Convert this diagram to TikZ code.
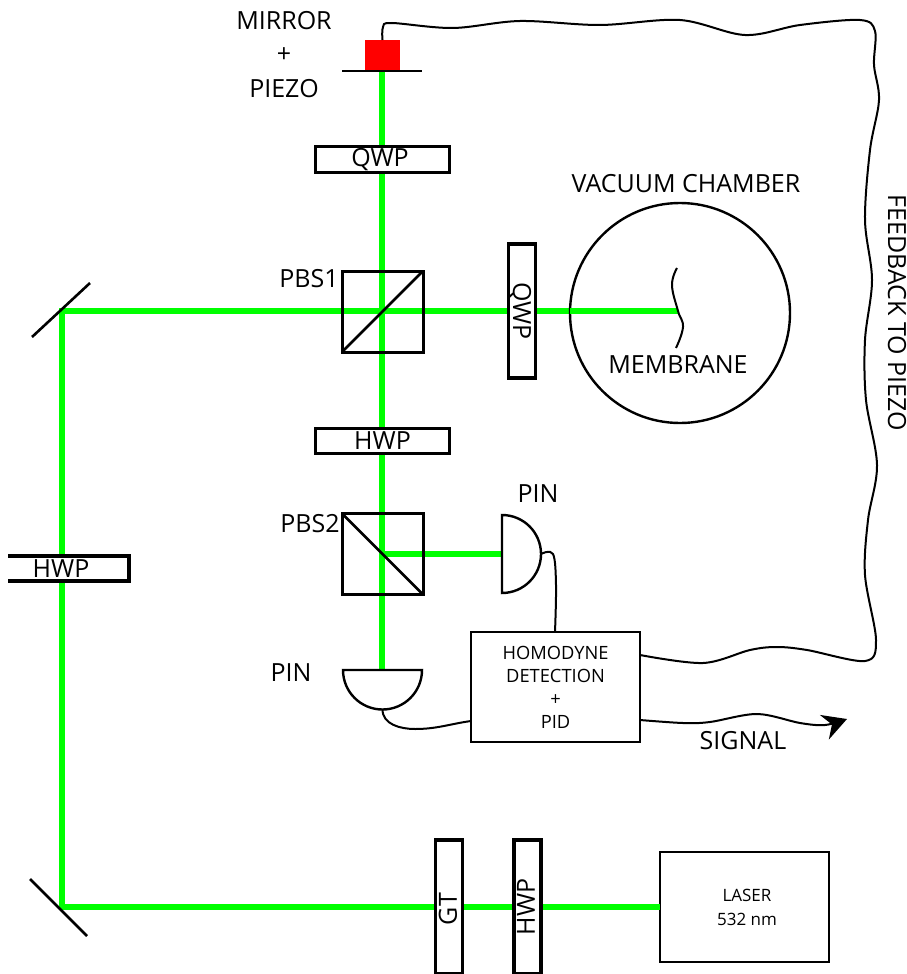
\documentclass[tikz,border=0pt]{standalone}
\usepackage{fontspec}
\setmainfont{Open Sans}
\usetikzlibrary{arrows.meta}
\definecolor{beamgreen}{RGB}{0,255,0}
\tikzset{
  x=1pt,y=-1pt,
  beam/.style={draw=beamgreen,line width=6pt},
  plate/.style={draw=black,line width=3.2pt,fill=white,inner sep=0pt,outer sep=0pt,font=\fontsize{25}{25}\selectfont},
  cube/.style={draw=black,line width=3pt,inner sep=0pt,outer sep=0pt,minimum width=81pt,minimum height=81pt},
  panel/.style={draw=black,line width=2.4pt,fill=white,inner sep=0pt,outer sep=0pt},
  wire/.style={draw=black,line width=2pt,line join=round},
  lbl/.style={inner sep=0pt,font=\fontsize{25}{25}\selectfont},
  small/.style={inner sep=0pt,font=\fontsize{18.3}{24}\selectfont,align=center},
  mir/.style={draw=black,line width=2.6pt},
}
\begin{document}
\begin{tikzpicture}
\useasboundingbox (0,0) rectangle (907,974);
% beams
\coordinate (mc1) at (62,311);
\coordinate (mc2) at (62,907);
\coordinate (mtop) at (382,71);
\coordinate (mem) at (678,311);
\node[panel,minimum width=169pt,minimum height=110pt] (laser) at (744.5,907) {};
\node[small,font=\fontsize{17}{24}\selectfont] (lasertext) at (747,907) {LASER\\532 nm};
\coordinate (pinb) at (382,670);
\coordinate (pinr) at (502,554);
\coordinate (pbstwo) at (382,554);
\draw[beam] (laser.west) -- (mc2) -- (mc1) -- (mem);
\draw[beam] (mtop) -- (pinb);
\draw[beam] (pbstwo) -- (pinr);
% mirrors
\draw[mir] (32,337) -- (90,283);
\draw[mir] (30,879) -- (87,936);
\node[draw=black,line width=2.4pt,circle,minimum size=220pt,inner sep=0pt] (chamber) at (680,313) {};
\draw[beam] (570,311) -- (mem);
\draw[mir] (342,71) -- (422,71);
\node[fill=red,minimum width=35pt,minimum height=30pt,inner sep=0pt,outer sep=0pt] (piezo) at (382.5,55) {};
% plates
\node[plate,minimum width=134pt,minimum height=26pt] (qwpa) at (382.5,159.5) {};
\node[lbl] (qwpatext) at (380,160) {QWP};
\node[plate,minimum width=134pt,minimum height=25pt] (hwpa) at (382.5,441) {};
\node[lbl] (hwpatext) at (382.5,441) {HWP};
\node[plate,minimum width=27pt,minimum height=134pt] (qwpb) at (522,311) {};
\node[lbl,rotate=-90] (qwpbtext) at (520,311) {QWP};
\node[plate,minimum width=27pt,minimum height=134pt] (gt) at (449,907) {};
\node[lbl,rotate=90] (gttext) at (448,909) {GT};
\node[plate,minimum width=27pt,minimum height=134pt] (hwpc) at (527.5,907) {};
\node[lbl,rotate=90] (hwpctext) at (526,907) {HWP};
\fill[white] (8,555) rectangle (130,582);
\draw[line width=3.2pt] (8,556) -- (129,556) -- (129,581) -- (8,581);
\node[lbl] (hwpb) at (61,568.5) {HWP};
% cubes
\node[cube] (pbsa) at (382.5,311.5) {};
\draw[line width=2.6pt] (pbsa.south west) -- (pbsa.north east);
\node[cube] (pbsb) at (382.5,554) {};
\draw[line width=2.6pt] (pbsb.north west) -- (pbsb.south east);
% detectors
\draw[panel] (502,515) arc[start angle=-90,end angle=90,radius=39] -- cycle;
\coordinate (pinrout) at (541,554);
\draw[panel] (343,670) arc[start angle=180,end angle=0,radius=39.5] -- cycle;
\coordinate (pinbout) at (382.5,709.5);
% homodyne
\node[panel,minimum width=169pt,minimum height=110pt] (hom) at (555.5,687) {};
\node[small] (homtext) at (555.5,687) {HOMODYNE\\[-1pt]DETECTION\\[-1pt]+\\[-1pt]PID};
% wires
\draw[wire] plot[smooth,tension=0.6] coordinates {(pinrout) (553,554) (556,585) (555,632)};
\draw[wire] (hom.west |- 0,721) to[out=188,in=0] (415,729) to[out=180,in=-90] (pinbout);
\draw[wire] plot[smooth,tension=0.55] coordinates {(piezo.north) (383,27) (392,23) (453,28) (520,21) (600,25) (680,20) (745,35) (800,25) (860,20) (875,31) (874,65) (879,100) (870,150) (865,220) (872,280) (865,340) (866,400) (877,465) (868,520) (865,575) (876,640) (865,661) (807,650) (777,647) (750,650) (703,663) (640,655)};
\coordinate (sigend) at (847,719);
\draw[wire,-{Stealth[length=24pt,width=26pt,inset=8pt]}] plot[smooth,tension=0.55] coordinates {(640,720) (683,723) (710,722) (757,714) (800,723) (825,725) (sigend)};
% labels
\node[lbl] (l1) at (284,21) {MIRROR};
\node[lbl] (l2) at (284,55) {+};
\node[lbl] (l3) at (284,89) {PIEZO};
\node[lbl] (l4) at (686,184) {VACUUM CHAMBER};
\node[lbl] (l5) at (309,279) {PBS1};
\node[lbl] (l6) at (310,524) {PBS2};
\node[lbl] (l7) at (538,494) {PIN};
\node[lbl] (l8) at (291,673) {PIN};
\node[lbl] (l9) at (678,365) {MEMBRANE};
\node[lbl] (l10) at (743,741) {SIGNAL};
\node[lbl,rotate=-90] (l11) at (897,313) {FEEDBACK TO PIEZO};
% membrane
\draw[wire] plot[smooth,tension=0.7] coordinates {(677,268) (672,285) (mem) (683,327) (676,348)};
\end{tikzpicture}
\end{document}
